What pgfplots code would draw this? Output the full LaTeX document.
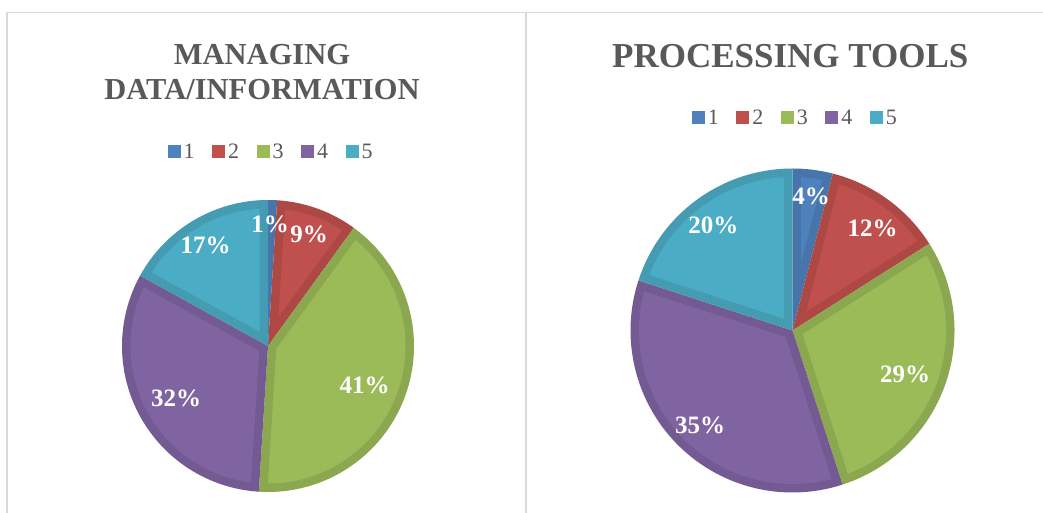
\documentclass[border=0pt]{standalone}
\usepackage{fontspec}
\setmainfont{Liberation Serif}
\usepackage{pgfplots}
\pgfplotsset{compat=1.18}

\definecolor{cA}{HTML}{4F81BD}
\definecolor{cB}{HTML}{C0504D}
\definecolor{cC}{HTML}{9BBB59}
\definecolor{cD}{HTML}{8064A2}
\definecolor{cE}{HTML}{4BACC6}
\definecolor{txtgrey}{HTML}{595959}
\definecolor{framegrey}{HTML}{D9D9D9}

% #1 cx, #2 cy, #3 R, #4 cumulative share before this slice (%), #5 share (%), #6 colour
\newcommand\pieslice[6]{%
  \pgfmathsetmacro\aTwo{90-3.6*#4}%
  \pgfmathsetmacro\aOne{\aTwo-3.6*#5}%
  \pgfmathsetmacro\bw{8.5}%
  \pgfmathsetmacro\Ri{#3-\bw}%
  \pgfmathsetmacro\dl{asin(\bw/\Ri)}%
  \pgfmathsetmacro\bOne{\aOne+\dl}%
  \pgfmathsetmacro\bTwo{\aTwo-\dl}%
  \pgfmathsetmacro\amid{(\aOne+\aTwo)/2}%
  \pgfmathsetmacro\dd{\bw/sin(1.8*#5)}%
  \pgfmathsetmacro\px{#1+\dd*cos(\amid)}%
  \pgfmathsetmacro\py{#2+\dd*sin(\amid)}%
  \pgfmathtruncatemacro\ok{(\bTwo-\bOne)>0.5}%
  \ifnum\ok=0
    \pgfmathsetmacro\bOne{\amid-0.01}%
    \pgfmathsetmacro\bTwo{\amid+0.01}%
    \edef\px{#1}\edef\py{#2}%
  \fi
  \edef\tmp{%
    \noexpand\addplot[fill=#6!90!black, draw=none, domain=\aOne:\aTwo, samples=90, forget plot]
      ({#1+#3*cos(x)},{#2+#3*sin(x)}) -- (axis cs:#1,#2) -- cycle;
    \noexpand\addplot[fill=#6, draw=none, domain=\bOne:\bTwo, samples=90]
      ({#1+\Ri*cos(x)},{#2+\Ri*sin(x)}) -- (axis cs:\px,\py) -- cycle;
  }\tmp
}

\pgfplotsset{
  canvas/.style={
    at={(0pt,0pt)}, anchor=south west, scale only axis,
    width=1043pt, height=513pt,
    xmin=0, xmax=1043, ymin=0, ymax=513,
    hide axis, clip=false,
    legend columns=5,
    legend image code/.code={\fill[##1] (0pt,-6.5pt) rectangle (13pt,6.5pt);},
    legend style={anchor=center, draw=none, fill=none,
      font=\fontsize{22}{22}\selectfont, text=txtgrey,
      nodes={inner sep=1.5pt},
      /tikz/every odd column/.append style={column sep=1.5pt},
      /tikz/every even column/.append style={column sep=16pt}},
  },
}
\tikzset{
  lbl/.style={font=\bfseries\fontsize{25}{25}\selectfont, text=white, inner sep=0pt},
  ttl/.style={font=\bfseries\fontsize{#1}{#1}\selectfont, text=txtgrey, inner sep=0pt, anchor=base},
}

\begin{document}
\begin{tikzpicture}
% ---------- left chart: Managing data/information ----------
\begin{axis}[canvas, legend style={at={(0.2598,0.7037)}}]
  \draw[framegrey, line width=1.8pt] (axis cs:7.3,0) -- (axis cs:7.3,500.5) -- (axis cs:1043,500.5);
  \draw[framegrey, line width=1.8pt] (axis cs:525.7,0) -- (axis cs:525.7,500.5);
  % shares: 1, 9, 41, 32, 17
  \pieslice{268}{167}{146}{0}{1}{cA}
  \pieslice{268}{167}{146}{1}{9}{cB}
  \pieslice{268}{167}{146}{10}{41}{cC}
  \pieslice{268}{167}{146}{51}{32}{cD}
  \pieslice{268}{167}{146}{83}{17}{cE}
  \legend{1,2,3,4,5}
  \node[lbl] at (axis cs:270,288.3) {1\%};
  \node[lbl] at (axis cs:309.2,278.3) {9\%};
  \node[lbl] at (axis cs:364.7,127.3) {41\%};
  \node[lbl] at (axis cs:176.2,114.3) {32\%};
  \node[lbl] at (axis cs:205.5,267.7) {17\%};
  \node[ttl=30.5] at (axis cs:262,448.5) {MANAGING};
  \node[ttl=30.5] at (axis cs:262,413) {DATA/INFORMATION};
\end{axis}
% ---------- right chart: Processing tools ----------
\begin{axis}[canvas, legend style={at={(0.7622,0.7700)}}]
  % shares: 4, 12, 29, 35, 20
  \pieslice{792.5}{182.5}{162}{0}{4}{cA}
  \pieslice{792.5}{182.5}{162}{4}{12}{cB}
  \pieslice{792.5}{182.5}{162}{16}{29}{cC}
  \pieslice{792.5}{182.5}{162}{45}{35}{cD}
  \pieslice{792.5}{182.5}{162}{80}{20}{cE}
  \legend{1,2,3,4,5}
  \node[lbl] at (axis cs:811,316.3) {4\%};
  \node[lbl] at (axis cs:872.5,284.7) {12\%};
  \node[lbl] at (axis cs:905,138.7) {29\%};
  \node[lbl] at (axis cs:700,87.2) {35\%};
  \node[lbl] at (axis cs:713.3,287.2) {20\%};
  \node[ttl=35] at (axis cs:790.3,445.3) {PROCESSING TOOLS};
\end{axis}
\pgfresetboundingbox
\useasboundingbox (0pt,0pt) rectangle (1043pt,513pt);
\end{tikzpicture}
\end{document}
